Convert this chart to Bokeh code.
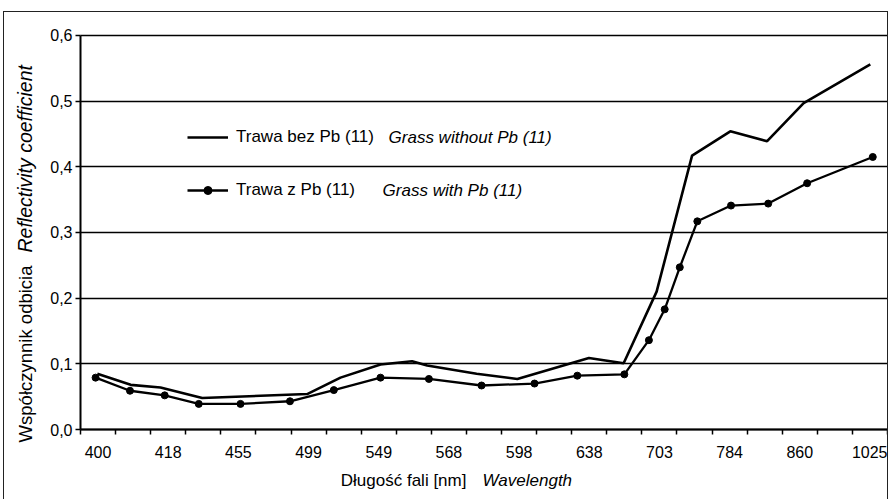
import math
from bokeh.plotting import figure
from bokeh.models import FixedTicker, Range1d, Label, Legend, LegendItem
from bokeh.embed import file_html
from bokeh.resources import INLINE

# ---- data ----
# category axis: 23 wavelength slots, every second one labelled
wavelength_labels = ["400", "418", "455", "499", "549", "568", "598", "638", "703", "784", "860", "1025"]
label_positions = [0, 2, 4, 6, 8, 10, 12, 14, 16, 18, 20, 22]

# Trawa bez Pb (11) / Grass without Pb (11)
pos_without = [-0.02, 0.93, 1.78, 2.97, 5.96, 6.91, 8.05, 8.95, 9.38, 10.79, 11.95,
               13.99, 14.98, 15.92, 16.93, 18.02, 19.07, 20.11, 22.01]
refl_without = [0.085, 0.068, 0.064, 0.048, 0.054, 0.079, 0.099, 0.104, 0.0975, 0.085, 0.077,
                0.109, 0.101, 0.210, 0.417, 0.454, 0.439, 0.497, 0.556]

# Trawa z Pb (11) / Grass with Pb (11)
pos_with = [-0.07, 0.91, 1.90, 2.87, 4.06, 5.47, 6.72, 8.05, 9.43, 10.93, 12.44,
            13.66, 15.00, 15.70, 16.15, 16.58, 17.08, 18.04, 19.10, 20.21, 22.08]
refl_with = [0.079, 0.059, 0.052, 0.039, 0.039, 0.043, 0.060, 0.079, 0.077, 0.067, 0.070,
             0.082, 0.084, 0.136, 0.183, 0.247, 0.317, 0.341, 0.344, 0.375, 0.415]

y_ticks = [0.0, 0.1, 0.2, 0.3, 0.4, 0.5, 0.6]
y_tick_labels = ["0,0", "0,1", "0,2", "0,3", "0,4", "0,5", "0,6"]

X_LO, X_HI = -0.5, 22.5      # category slots
Y_LO, Y_HI = 0.0, 0.6

FONT = "Liberation Sans"
TICK_SIZE = "16px"
TEXT_SIZE = "17px"

W, H = 885, 488
# the frame spans the whole canvas; axes are pinned inside it so titles can sit anywhere
p = figure(width=W, height=H, output_backend="svg", toolbar_location=None,
           x_range=Range1d(-2.666, 22.557), y_range=Range1d(-0.1081, 0.635),
           min_border_left=0, min_border_right=0, min_border_top=0, min_border_bottom=0)
p.styles = {"border-top": "1px solid #222", "border-left": "1px solid #222",
            "border-right": "1px solid #222", "margin-top": "11px", "margin-left": "3px"}
p.outline_line_color = None
p.background_fill_color = "white"
p.border_fill_color = "white"

# x axis
p.xaxis.fixed_location = Y_LO
p.xaxis.bounds = (X_LO, X_HI)
p.xaxis.ticker = FixedTicker(ticks=label_positions, minor_ticks=[i - 0.5 for i in range(24)])
p.xaxis.major_label_overrides = {pos: lab for pos, lab in zip(label_positions, wavelength_labels)}
p.xaxis.major_tick_line_color = None
p.xaxis.major_tick_out = 0
p.xaxis.major_tick_in = 0
p.xaxis.minor_tick_out = 5
p.xaxis.minor_tick_in = 0
p.xaxis.minor_tick_line_color = "black"
p.xaxis.minor_tick_line_width = 1.5
p.xaxis.axis_line_width = 2
p.xaxis.axis_line_color = "black"
p.xaxis.major_label_standoff = 11
p.xaxis.major_label_text_font = FONT
p.xaxis.major_label_text_font_size = TICK_SIZE
p.xaxis.major_label_text_color = "black"

# y axis
p.yaxis.fixed_location = X_LO
p.yaxis.bounds = (Y_LO, Y_HI)
p.yaxis.ticker = FixedTicker(ticks=y_ticks)
p.yaxis.major_label_overrides = {t: l for t, l in zip(y_ticks, y_tick_labels)}
p.yaxis.minor_tick_line_color = None
p.yaxis.major_tick_out = 5
p.yaxis.major_tick_in = 0
p.yaxis.major_tick_line_width = 1.5
p.yaxis.axis_line_width = 2
p.yaxis.axis_line_color = "black"
p.yaxis.major_label_standoff = 3
p.yaxis.major_label_text_font = FONT
p.yaxis.major_label_text_font_size = TICK_SIZE
p.yaxis.major_label_text_color = "black"

p.xgrid.grid_line_color = None
p.ygrid.ticker = FixedTicker(ticks=y_ticks)
p.ygrid.bounds = (Y_LO, Y_HI)
try:
    p.ygrid.cross_bounds = (X_LO, X_HI)
    p.ygrid.grid_line_color = "black"
    p.ygrid.grid_line_width = 1.5
except Exception:
    p.ygrid.grid_line_color = None
    p.segment(x0=[X_LO] * len(y_ticks), x1=[X_HI] * len(y_ticks), y0=y_ticks, y1=y_ticks,
              line_color="black", line_width=1.5)

# series
r_without = p.line(pos_without, refl_without, line_color="black", line_width=2.6)
r_with_line = p.line(pos_with, refl_with, line_color="black", line_width=2.3)
r_with_pts = p.scatter(pos_with, refl_with, size=7, color="black")

legend = Legend(items=[LegendItem(label="Trawa bez Pb (11)", renderers=[r_without]),
                       LegendItem(label="Trawa z Pb (11)", renderers=[r_with_line, r_with_pts])],
                location=(183, 300), glyph_width=41, glyph_height=20, label_height=20,
                spacing=33, padding=0, margin=0, border_line_color=None,
                background_fill_alpha=0, label_standoff=8,
                label_text_font=FONT, label_text_font_size=TEXT_SIZE, label_text_color="black")
p.add_layout(legend)

common = dict(text_font=FONT, text_font_size=TEXT_SIZE, text_color="black", text_baseline="middle")
p.add_layout(Label(x=8.28, y=0.445, text="Grass without Pb (11)", text_font_style="italic", **common))
p.add_layout(Label(x=8.11, y=0.364, text="Grass with Pb (11)", text_font_style="italic", **common))

# axis titles (two styles each)
p.add_layout(Label(x=10.50, y=-0.0775, text="Długość fali [nm]", text_align="right", **common))
p.add_layout(Label(x=10.96, y=-0.0775, text="Wavelength", text_align="left",
                   text_font_style="italic", **common))
ytitle = dict(common, text_font_size="18.5px")
p.add_layout(Label(x=-2.07, y=0.2497, text="Współczynnik odbicia", angle=math.pi / 2,
                   text_align="right", **ytitle))
ytitle_it = dict(common, text_font_size="19.5px")
p.add_layout(Label(x=-2.07, y=0.2695, text="Reflectivity coefficient", angle=math.pi / 2,
                   text_align="left", text_font_style="italic", **ytitle_it))

open("out.html", "w").write(file_html(p, INLINE))
